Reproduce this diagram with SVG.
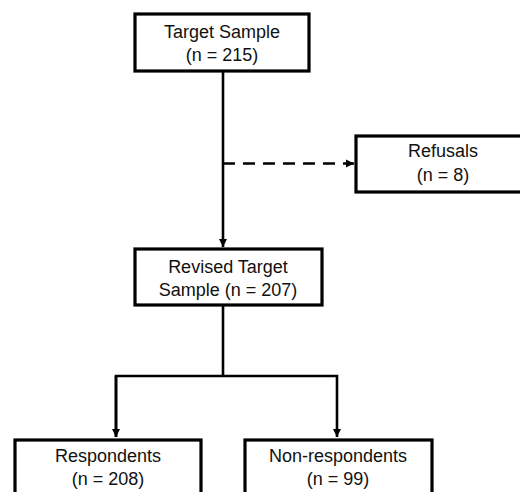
<svg xmlns="http://www.w3.org/2000/svg" width="520" height="492" viewBox="0 0 520 492">
<defs>
<marker id="arr" viewBox="0 0 10 10" refX="10" refY="5" markerWidth="3.2" markerHeight="3.2" orient="auto" markerUnits="strokeWidth">
<path d="M0,0 L10,5 L0,10 Z" fill="#000"/>
</marker>
<style>
.box{fill:#fff;stroke:#000;stroke-width:3.2;}
.lbl{font-family:"Liberation Sans",Arial,sans-serif;font-size:18px;fill:#111;text-anchor:middle;}
.con{fill:none;stroke:#000;stroke-width:2.6;}
.dash{stroke-dasharray:12 8;}
</style>
</defs>
<rect width="520" height="492" fill="#fff"/>
<g id="connectors">
<line class="con" x1="223" y1="72" x2="223" y2="247" marker-end="url(#arr)"/>
<line class="con dash" x1="223" y1="163.5" x2="354" y2="163.5" marker-end="url(#arr)"/>
<line class="con" x1="223" y1="305" x2="223" y2="376"/>
<path class="con" d="M116,437 V376 H337 V437" marker-end="url(#arr)"/>
<line class="con" x1="116" y1="376" x2="116" y2="437" marker-end="url(#arr)"/>
</g>
<g id="target">
<rect class="box" x="135" y="14" width="174" height="57"/>
<text class="lbl" x="222" y="38">Target Sample</text>
<text class="lbl" x="222" y="61">(n = 215)</text>
</g>
<g id="refusals">
<rect class="box" x="356" y="136" width="176" height="56"/>
<text class="lbl" x="443" y="157">Refusals</text>
<text class="lbl" x="443" y="181">(n = 8)</text>
</g>
<g id="revised">
<rect class="box" x="135" y="249" width="187" height="56"/>
<text class="lbl" x="228" y="273">Revised Target</text>
<text class="lbl" x="228" y="296">Sample (n = 207)</text>
</g>
<g id="respondents">
<rect class="box" x="15" y="440" width="186" height="70"/>
<text class="lbl" x="108" y="462">Respondents</text>
<text class="lbl" x="108" y="485">(n = 208)</text>
</g>
<g id="nonrespondents">
<rect class="box" x="245" y="440" width="187" height="70"/>
<text class="lbl" x="338" y="462">Non-respondents</text>
<text class="lbl" x="338" y="485">(n = 99)</text>
</g>
</svg>
